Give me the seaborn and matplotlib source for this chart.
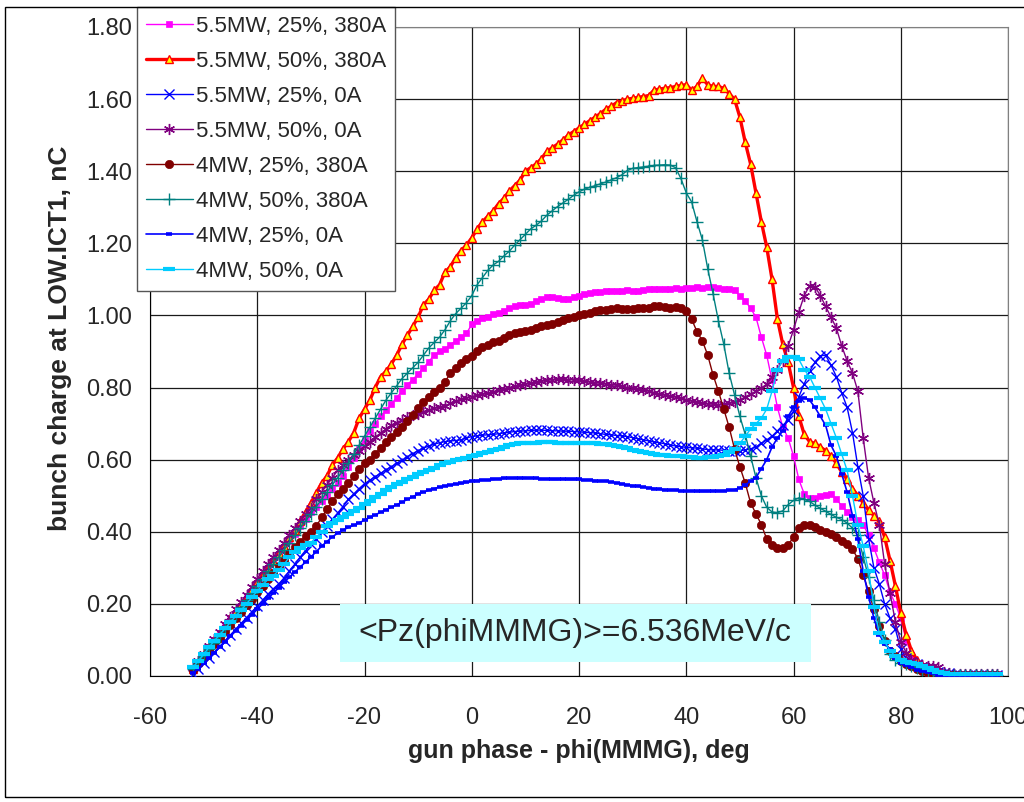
import matplotlib
matplotlib.use("Agg")
import matplotlib.pyplot as plt
from matplotlib.patches import Rectangle
from matplotlib.ticker import FormatStrFormatter, MultipleLocator
import seaborn as sns

# gun phase scan, 1 deg steps
phase = list(range(-52, 99))

labels = [
    "5.5MW, 25%, 380A",
    "5.5MW, 50%, 380A",
    "5.5MW, 25%, 0A",
    "5.5MW, 50%, 0A",
    "4MW, 25%, 380A",
    "4MW, 50%, 380A",
    "4MW, 25%, 0A",
    "4MW, 50%, 0A",
]

q_55_25_380 = [
    0.020, 0.035, 0.055, 0.075, 0.095, 0.115, 0.135, 0.155, 0.175, 0.195,
    0.215, 0.235, 0.255, 0.275, 0.295, 0.315, 0.335, 0.355, 0.375, 0.395,
    0.415, 0.435, 0.455, 0.470, 0.485, 0.500, 0.520, 0.535, 0.555, 0.580,
    0.605, 0.630, 0.655, 0.680, 0.700, 0.720, 0.737, 0.755, 0.772, 0.790,
    0.808, 0.822, 0.838, 0.855, 0.872, 0.890, 0.900, 0.907, 0.918, 0.930,
    0.940, 0.950, 0.975, 0.985, 0.992, 0.997, 1.003, 1.008, 1.013, 1.020,
    1.025, 1.028, 1.030, 1.032, 1.040, 1.045, 1.050, 1.052, 1.048, 1.045,
    1.046, 1.050, 1.055, 1.060, 1.062, 1.064, 1.066, 1.068, 1.068, 1.069,
    1.069, 1.070, 1.069, 1.069, 1.070, 1.072, 1.074, 1.074, 1.072, 1.074,
    1.075, 1.074, 1.076, 1.077, 1.078, 1.077, 1.078, 1.078, 1.076, 1.074,
    1.072, 1.070, 1.055, 1.040, 1.020, 0.995, 0.940, 0.890, 0.820, 0.745,
    0.690, 0.660, 0.610, 0.545, 0.505, 0.495, 0.494, 0.498, 0.503, 0.506,
    0.490, 0.472, 0.455, 0.442, 0.433, 0.420, 0.390, 0.355, 0.315, 0.280,
    0.232, 0.200, 0.160, 0.100, 0.058, 0.028, 0.018, 0.012, 0.008, 0.005,
    0.005, 0.005, 0.005, 0.005, 0.005, 0.005, 0.005, 0.005, 0.005, 0.005,
    0.005,
]

q_55_50_380 = [
    0.020, 0.040, 0.060, 0.080, 0.100, 0.120, 0.140, 0.160, 0.180, 0.200,
    0.220, 0.240, 0.260, 0.280, 0.300, 0.320, 0.340, 0.360, 0.385, 0.405,
    0.430, 0.455, 0.480, 0.508, 0.535, 0.555, 0.585, 0.605, 0.630, 0.650,
    0.675, 0.715, 0.740, 0.765, 0.800, 0.830, 0.845, 0.865, 0.890, 0.920,
    0.945, 0.970, 0.995, 1.030, 1.045, 1.070, 1.085, 1.120, 1.135, 1.160,
    1.180, 1.195, 1.215, 1.240, 1.260, 1.275, 1.290, 1.310, 1.325, 1.345,
    1.360, 1.375, 1.400, 1.410, 1.420, 1.435, 1.455, 1.465, 1.475, 1.487,
    1.500, 1.510, 1.520, 1.530, 1.540, 1.550, 1.560, 1.572, 1.580, 1.590,
    1.595, 1.600, 1.602, 1.605, 1.607, 1.610, 1.625, 1.628, 1.630, 1.632,
    1.635, 1.638, 1.640, 1.625, 1.635, 1.658, 1.640, 1.635, 1.635, 1.630,
    1.615, 1.600, 1.550, 1.480, 1.420, 1.340, 1.260, 1.190, 1.100, 0.990,
    0.920, 0.870, 0.800, 0.720, 0.670, 0.650, 0.645, 0.635, 0.625, 0.610,
    0.590, 0.565, 0.545, 0.520, 0.500, 0.480, 0.460, 0.445, 0.430, 0.385,
    0.320, 0.250, 0.175, 0.115, 0.070, 0.045, 0.030, 0.020, 0.012, 0.008,
    0.006, 0.005, 0.004, 0.004, 0.004, 0.004, 0.004, 0.004, 0.004, 0.004,
    0.004,
]

q_55_25_0 = [
    0.005, 0.020, 0.035, 0.050, 0.066, 0.082, 0.098, 0.114, 0.130, 0.146,
    0.162, 0.178, 0.194, 0.210, 0.227, 0.242, 0.255, 0.272, 0.292, 0.310,
    0.330, 0.348, 0.365, 0.380, 0.398, 0.416, 0.435, 0.452, 0.470, 0.490,
    0.505, 0.520, 0.533, 0.543, 0.553, 0.562, 0.572, 0.580, 0.590, 0.598,
    0.608, 0.617, 0.625, 0.632, 0.638, 0.643, 0.647, 0.650, 0.652, 0.653,
    0.655, 0.660, 0.664, 0.666, 0.668, 0.669, 0.670, 0.672, 0.674, 0.676,
    0.678, 0.679, 0.680, 0.681, 0.682, 0.682, 0.681, 0.680, 0.680, 0.679,
    0.679, 0.678, 0.677, 0.676, 0.675, 0.674, 0.672, 0.670, 0.669, 0.667,
    0.666, 0.664, 0.661, 0.658, 0.655, 0.652, 0.649, 0.647, 0.644, 0.641,
    0.638, 0.636, 0.634, 0.633, 0.632, 0.630, 0.628, 0.627, 0.627, 0.626,
    0.624, 0.624, 0.625, 0.627, 0.630, 0.635, 0.645, 0.655, 0.665, 0.680,
    0.695, 0.710, 0.735, 0.775, 0.810, 0.845, 0.870, 0.888, 0.890, 0.862,
    0.830, 0.785, 0.745, 0.675, 0.580, 0.500, 0.380, 0.300, 0.255, 0.200,
    0.160, 0.130, 0.075, 0.050, 0.040, 0.032, 0.026, 0.020, 0.014, 0.010,
    0.008, 0.007, 0.003, 0.003, 0.003, 0.003, 0.003, 0.003, 0.003, 0.003,
    0.003,
]

q_55_50_0 = [
    0.022, 0.042, 0.062, 0.082, 0.102, 0.122, 0.143, 0.163, 0.185, 0.205,
    0.226, 0.248, 0.270, 0.290, 0.310, 0.330, 0.350, 0.370, 0.390, 0.410,
    0.430, 0.448, 0.465, 0.490, 0.510, 0.530, 0.550, 0.570, 0.585, 0.600,
    0.612, 0.625, 0.638, 0.650, 0.662, 0.674, 0.685, 0.695, 0.703, 0.710,
    0.717, 0.723, 0.728, 0.733, 0.738, 0.742, 0.746, 0.750, 0.756, 0.762,
    0.768, 0.772, 0.775, 0.778, 0.781, 0.785, 0.788, 0.792, 0.796, 0.800,
    0.803, 0.806, 0.810, 0.812, 0.815, 0.818, 0.820, 0.822, 0.823, 0.823,
    0.822, 0.821, 0.820, 0.818, 0.816, 0.814, 0.812, 0.810, 0.808, 0.806,
    0.803, 0.800, 0.798, 0.796, 0.794, 0.790, 0.786, 0.782, 0.779, 0.777,
    0.774, 0.770, 0.766, 0.763, 0.760, 0.757, 0.755, 0.754, 0.753, 0.754,
    0.756, 0.760, 0.766, 0.774, 0.782, 0.790, 0.798, 0.810, 0.828, 0.850,
    0.875, 0.915, 0.960, 1.010, 1.055, 1.083, 1.080, 1.055, 1.025, 0.995,
    0.965, 0.915, 0.874, 0.840, 0.790, 0.660, 0.550, 0.480, 0.420, 0.310,
    0.230, 0.150, 0.095, 0.065, 0.045, 0.036, 0.031, 0.028, 0.027, 0.025,
    0.012, 0.008, 0.005, 0.005, 0.005, 0.005, 0.005, 0.005, 0.005, 0.005,
    0.005,
]

q_4_25_380 = [
    0.018, 0.035, 0.052, 0.070, 0.088, 0.106, 0.124, 0.142, 0.160, 0.178,
    0.196, 0.214, 0.232, 0.250, 0.268, 0.286, 0.304, 0.322, 0.340, 0.358,
    0.373, 0.388, 0.400, 0.415, 0.440, 0.462, 0.485, 0.505, 0.520, 0.534,
    0.555, 0.575, 0.590, 0.600, 0.617, 0.632, 0.648, 0.662, 0.676, 0.690,
    0.706, 0.725, 0.743, 0.760, 0.773, 0.787, 0.800, 0.815, 0.840, 0.855,
    0.867, 0.878, 0.888, 0.902, 0.912, 0.918, 0.925, 0.930, 0.937, 0.945,
    0.950, 0.955, 0.958, 0.961, 0.965, 0.970, 0.973, 0.976, 0.982, 0.988,
    0.993, 0.997, 1.000, 1.004, 1.008, 1.012, 1.014, 1.016, 1.018, 1.020,
    1.018, 1.017, 1.018, 1.020, 1.022, 1.022, 1.025, 1.027, 1.024, 1.022,
    1.023, 1.022, 1.012, 0.990, 0.955, 0.930, 0.890, 0.835, 0.790, 0.740,
    0.690, 0.630, 0.580, 0.535, 0.480, 0.450, 0.420, 0.380, 0.363, 0.356,
    0.356, 0.364, 0.385, 0.410, 0.420, 0.418, 0.414, 0.405, 0.398, 0.394,
    0.385, 0.374, 0.366, 0.352, 0.325, 0.280, 0.235, 0.185, 0.140, 0.097,
    0.070, 0.055, 0.042, 0.034, 0.027, 0.020, 0.013, 0.008, 0.005, 0.003,
    0.003, 0.003, 0.003, 0.003, 0.003, 0.003, 0.003, 0.003, 0.003, 0.003,
    0.003,
]

q_4_50_380 = [
    0.020, 0.038, 0.056, 0.074, 0.092, 0.110, 0.130, 0.150, 0.170, 0.190,
    0.210, 0.230, 0.250, 0.270, 0.290, 0.310, 0.330, 0.350, 0.370, 0.390,
    0.410, 0.430, 0.450, 0.470, 0.490, 0.510, 0.530, 0.550, 0.570, 0.590,
    0.615, 0.640, 0.665, 0.690, 0.715, 0.740, 0.765, 0.785, 0.805, 0.825,
    0.840, 0.855, 0.870, 0.890, 0.910, 0.925, 0.940, 0.960, 0.985, 1.005,
    1.020, 1.035, 1.055, 1.085, 1.105, 1.125, 1.140, 1.150, 1.165, 1.178,
    1.195, 1.210, 1.225, 1.240, 1.250, 1.262, 1.278, 1.290, 1.302, 1.312,
    1.322, 1.333, 1.343, 1.350, 1.355, 1.360, 1.365, 1.370, 1.376, 1.382,
    1.390, 1.402, 1.408, 1.410, 1.412, 1.414, 1.416, 1.417, 1.418, 1.417,
    1.410, 1.380, 1.340, 1.315, 1.260, 1.210, 1.130, 1.060, 0.985, 0.920,
    0.840, 0.780, 0.720, 0.670, 0.610, 0.550, 0.500, 0.468, 0.455, 0.453,
    0.458, 0.475, 0.487, 0.494, 0.490, 0.484, 0.474, 0.465, 0.457, 0.448,
    0.440, 0.434, 0.424, 0.410, 0.390, 0.330, 0.275, 0.210, 0.150, 0.100,
    0.062, 0.045, 0.037, 0.032, 0.027, 0.022, 0.016, 0.011, 0.007, 0.004,
    0.004, 0.004, 0.004, 0.004, 0.004, 0.004, 0.004, 0.004, 0.004, 0.004,
    0.004,
]

q_4_25_0 = [
    0.008, 0.020, 0.035, 0.050, 0.065, 0.080, 0.095, 0.110, 0.125, 0.140,
    0.155, 0.170, 0.185, 0.200, 0.215, 0.230, 0.245, 0.260, 0.274, 0.288,
    0.302, 0.316, 0.330, 0.345, 0.360, 0.373, 0.386, 0.396, 0.405, 0.412,
    0.418, 0.425, 0.432, 0.440, 0.447, 0.454, 0.461, 0.468, 0.475, 0.482,
    0.490, 0.497, 0.505, 0.510, 0.515, 0.520, 0.524, 0.527, 0.530, 0.532,
    0.534, 0.537, 0.540, 0.542, 0.543, 0.544, 0.545, 0.547, 0.548, 0.549,
    0.550, 0.550, 0.550, 0.549, 0.548, 0.547, 0.546, 0.545, 0.545, 0.546,
    0.545, 0.545, 0.545, 0.544, 0.543, 0.542, 0.541, 0.540, 0.538, 0.536,
    0.533, 0.530, 0.528, 0.526, 0.524, 0.522, 0.520, 0.518, 0.517, 0.516,
    0.515, 0.514, 0.513, 0.513, 0.512, 0.512, 0.512, 0.513, 0.513, 0.514,
    0.515, 0.517, 0.522, 0.530, 0.540, 0.550, 0.575, 0.600, 0.635, 0.660,
    0.680, 0.720, 0.745, 0.763, 0.772, 0.765, 0.745, 0.720, 0.695, 0.640,
    0.610, 0.560, 0.510, 0.445, 0.380, 0.290, 0.220, 0.160, 0.115, 0.090,
    0.075, 0.050, 0.035, 0.030, 0.024, 0.018, 0.013, 0.010, 0.007, 0.004,
    0.004, 0.004, 0.004, 0.004, 0.004, 0.004, 0.004, 0.004, 0.004, 0.004,
    0.004,
]

q_4_50_0 = [
    0.024, 0.042, 0.060, 0.080, 0.098, 0.115, 0.132, 0.149, 0.166, 0.183,
    0.200, 0.218, 0.236, 0.252, 0.268, 0.278, 0.293, 0.310, 0.330, 0.343,
    0.355, 0.362, 0.370, 0.385, 0.400, 0.415, 0.425, 0.432, 0.440, 0.450,
    0.458, 0.466, 0.476, 0.486, 0.496, 0.505, 0.515, 0.524, 0.532, 0.539,
    0.546, 0.553, 0.560, 0.566, 0.572, 0.578, 0.584, 0.590, 0.594, 0.598,
    0.602, 0.606, 0.610, 0.614, 0.618, 0.622, 0.626, 0.630, 0.636, 0.641,
    0.644, 0.645, 0.646, 0.647, 0.647, 0.648, 0.648, 0.648, 0.647, 0.647,
    0.647, 0.647, 0.647, 0.646, 0.646, 0.645, 0.644, 0.643, 0.641, 0.639,
    0.636, 0.632, 0.628, 0.625, 0.622, 0.619, 0.616, 0.614, 0.612, 0.611,
    0.610, 0.609, 0.608, 0.607, 0.606, 0.606, 0.607, 0.608, 0.610, 0.614,
    0.620, 0.630, 0.645, 0.665, 0.685, 0.700, 0.715, 0.740, 0.790, 0.850,
    0.875, 0.885, 0.886, 0.878, 0.850, 0.830, 0.800, 0.770, 0.740, 0.700,
    0.660, 0.615, 0.570, 0.500, 0.420, 0.360, 0.290, 0.190, 0.120, 0.095,
    0.070, 0.055, 0.045, 0.040, 0.036, 0.032, 0.028, 0.022, 0.016, 0.012,
    0.008, 0.005, 0.005, 0.005, 0.005, 0.005, 0.005, 0.005, 0.005, 0.005,
    0.005,
]

series = [q_55_25_380, q_55_50_380, q_55_25_0, q_55_50_0,
          q_4_25_380, q_4_50_380, q_4_25_0, q_4_50_0]

styles = [
    dict(color="#FF00FF", linewidth=1.0, marker="s", markersize=5,
         markerfacecolor="#FF00FF", markeredgecolor="#FF00FF", markeredgewidth=0.5),
    dict(color="#FF0000", linewidth=2.4, marker="^", markersize=5.5,
         markerfacecolor="#FFFF00", markeredgecolor="#FF0000", markeredgewidth=1.0),
    dict(color="#0000FF", linewidth=1.0, marker="x", markersize=7,
         markeredgecolor="#0000FF", markeredgewidth=1.0),
    dict(color="#800080", linewidth=1.0, marker=(6, 2, 0), markersize=8,
         markeredgecolor="#800080", markeredgewidth=1.0),
    dict(color="#800000", linewidth=1.0, marker="o", markersize=6,
         markerfacecolor="#800000", markeredgecolor="#800000", markeredgewidth=0.5),
    dict(color="#008080", linewidth=1.0, marker="+", markersize=8,
         markeredgecolor="#008080", markeredgewidth=1.0),
    dict(color="#0000FF", linewidth=1.2, marker="_", markersize=5,
         markeredgecolor="#0000FF", markeredgewidth=2.6),
    dict(color="#00CCFF", linewidth=1.0, marker="_", markersize=8.5,
         markeredgecolor="#00CCFF", markeredgewidth=3.0),
]

sns.set_style("white")
plt.rcParams['font.family'] = ['Liberation Sans', 'DejaVu Sans']
plt.rcParams['axes.unicode_minus'] = False

fig = plt.figure(figsize=(10.24, 8.02), dpi=100)
ax = fig.add_axes([150 / 1024, 126 / 802, 858 / 1024, 649 / 802])

for lab, vals, st in zip(labels, series, styles):
    sns.lineplot(x=phase, y=vals, ax=ax, label=lab, zorder=3, **st)

ax.set_xlim(-60, 100)
ax.set_ylim(0, 1.8)
ax.xaxis.set_major_locator(MultipleLocator(20))
ax.yaxis.set_major_locator(MultipleLocator(0.2))
ax.yaxis.set_major_formatter(FormatStrFormatter("%.2f"))
ax.set_axisbelow(True)
ax.grid(True, color="#1a1a1a", linewidth=0.9)
ax.tick_params(direction="out", length=5, width=1, color="black", labelsize=17)
ax.tick_params(axis="y", pad=8)
ax.tick_params(axis="x", pad=17)
for side in ["left", "bottom"]:
    ax.spines[side].set_color("black")
for side in ["top", "right"]:
    ax.spines[side].set_color("#808080")

ax.set_xlabel("gun phase - phi(MMMG), deg", fontsize=18, fontweight="bold")
ax.set_ylabel("bunch charge at LOW.ICT1, nC", fontsize=19, fontweight="bold")
ax.xaxis.set_label_coords(0.5, -0.097)
ax.yaxis.set_label_coords(-0.091, 0.52)

# momentum note
ax.add_patch(Rectangle((-24.6, 0.039), 87.9, 0.161, facecolor="#CCFFFF",
                       edgecolor="none", zorder=1.5))
ax.text(19.3, 0.12, "<Pz(phiMMMG)>=6.536MeV/c", ha="center", va="center",
        fontsize=23, zorder=4)

leg = ax.legend(loc="upper left", bbox_to_anchor=(137 / 1024, 1 - 7 / 802),
                bbox_transform=fig.transFigure, borderaxespad=0, frameon=True,
                fancybox=False, framealpha=1, edgecolor="#555555", fontsize=16,
                labelspacing=0.63, handlelength=2.1, handletextpad=0.15,
                borderpad=0.4)
leg.get_frame().set_linewidth(1.0)
leg.set_zorder(6)

fig.patches.append(Rectangle((5 / 1024, 5 / 802), 1.0, 790 / 802,
                             transform=fig.transFigure, fill=False,
                             edgecolor="black", linewidth=1.0))

fig.savefig("out.png", dpi=100)
